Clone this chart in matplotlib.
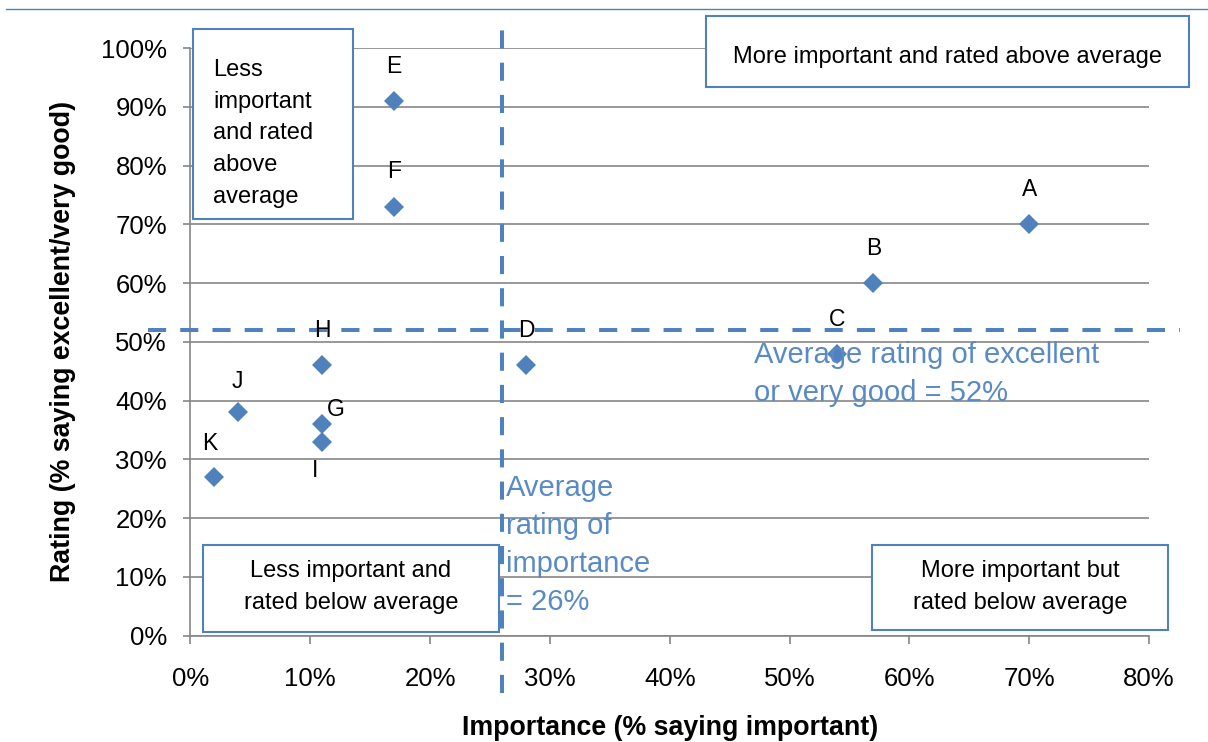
import matplotlib
matplotlib.use("Agg")
import matplotlib.pyplot as plt
from matplotlib.patches import Rectangle
from matplotlib.lines import Line2D
from matplotlib.ticker import PercentFormatter, FixedLocator
import matplotlib.transforms as mtransforms

plt.rcParams['font.family'] = ['Liberation Sans', 'DejaVu Sans']

# ---- data -------------------------------------------------------------
labels = ['A', 'B', 'C', 'D', 'E', 'F', 'G', 'H', 'I', 'J', 'K']
importance = [70, 57, 54, 28, 17, 17, 11, 11, 11, 4, 2]       # % saying important
rating = [70, 60, 48, 46, 91, 73, 36, 46, 33, 38, 27]           # % excellent/very good
avg_importance = 26
avg_rating = 52

x_ticks = [0, 10, 20, 30, 40, 50, 60, 70, 80]
y_ticks = [0, 10, 20, 30, 40, 50, 60, 70, 80, 90, 100]

# where each point's letter sits relative to the marker (pixels)
label_offsets = {
    'A': (0, 35), 'B': (0, 35), 'C': (0, 34), 'D': (0, 35), 'E': (0, 34),
    'F': (0, 35), 'G': (14, 15), 'H': (0, 35), 'I': (-7, -29), 'J': (-1, 31),
    'K': (-5, 34),
}

BLUE = '#4F81BD'
TEXT_BLUE = '#5A8AC6'
GRID = '#868686'

W, H = 1208, 742
fig = plt.figure(figsize=(W / 100, H / 100), dpi=100)


def fx(px):
    return px / W


def fy(py):
    return 1 - py / H


ax_left, ax_right, ax_top, ax_bottom = 190.5, 1149, 48, 635.7
ax = fig.add_axes([fx(ax_left), fy(ax_bottom),
                   fx(ax_right - ax_left), (ax_bottom - ax_top) / H])

ax.set_xlim(x_ticks[0], x_ticks[-1])
ax.set_ylim(y_ticks[0], y_ticks[-1])
ax.xaxis.set_major_locator(FixedLocator(x_ticks))
ax.yaxis.set_major_locator(FixedLocator(y_ticks))
ax.xaxis.set_major_formatter(PercentFormatter(100, decimals=0))
ax.yaxis.set_major_formatter(PercentFormatter(100, decimals=0))

ax.yaxis.grid(True, color=GRID, lw=1.2)
ax.set_axisbelow(True)
for side in ('top', 'right'):
    ax.spines[side].set_visible(False)
for side in ('left', 'bottom'):
    ax.spines[side].set_color(GRID)
    ax.spines[side].set_linewidth(1.2)
ax.tick_params(axis='both', colors=GRID, labelcolor='black', labelsize=18.5,
               length=5.4, width=1.2)
ax.tick_params(axis='y', pad=11.5)
ax.tick_params(axis='x', pad=17)

ax.set_xlabel('Importance (% saying important)', fontsize=19.3,
              fontweight='bold', va='center')
ax.set_ylabel('Rating (% saying excellent/very good)', fontsize=19.3,
              fontweight='bold', va='center')
ax.xaxis.set_label_coords(0.5, (ax_bottom - 728) / (ax_bottom - ax_top))
ax.yaxis.set_label_coords((63.5 - ax_left) / (ax_right - ax_left), 0.5)

# average reference lines (run past the plotting area)
hx = mtransforms.blended_transform_factory(ax.transAxes, ax.transData)
vx = mtransforms.blended_transform_factory(ax.transData, ax.transAxes)
span = ax_right - ax_left
vspan = ax_bottom - ax_top
ax.add_line(Line2D([(148 - ax_left) / span, (1180 - ax_left) / span],
                   [avg_rating, avg_rating], transform=hx, color=BLUE,
                   lw=2.9, dashes=(4.5, 3.5), clip_on=False, zorder=3))
ax.add_line(Line2D([avg_importance, avg_importance],
                   [(ax_bottom - 693) / vspan, (ax_bottom - 22) / vspan],
                   transform=vx, color=BLUE, lw=2.9, dashes=(4.5, 3.5),
                   clip_on=False, zorder=3))

# quadrant boxes (drawn in figure pixels)
def quad_box(x0, y0, x1, y1):
    fig.add_artist(Rectangle((fx(x0), fy(y1)), fx(x1 - x0), (y1 - y0) / H,
                             transform=fig.transFigure, facecolor='white',
                             edgecolor=BLUE, lw=1.5, zorder=4))


quad_box(192.5, 28.5, 352.5, 219)
for line, yy in zip(['Less', 'important', 'and rated', 'above', 'average'],
                    [70, 102, 133, 165, 197]):
    fig.text(fx(213), fy(yy), line, fontsize=17, ha='left', va='center',
             zorder=5)

quad_box(706, 16, 1189, 87)
fig.text(fx(947.5), fy(57), 'More important and rated above average',
         fontsize=17, ha='center', va='center', zorder=5)

quad_box(203, 545, 499, 632)
for line, yy in zip(['Less important and', 'rated below average'], [571, 603]):
    fig.text(fx(351), fy(yy), line, fontsize=17, ha='center', va='center',
             zorder=5)

quad_box(872, 545, 1168, 630)
for line, yy in zip(['More important but', 'rated below average'], [571, 603]):
    fig.text(fx(1020), fy(yy), line, fontsize=17, ha='center', va='center',
             zorder=5)

# average captions
for line, yy in zip(['Average rating of excellent', 'or very good = 52%'],
                    [355, 393]):
    fig.text(fx(754), fy(yy), line, fontsize=21, color=TEXT_BLUE,
             ha='left', va='center', zorder=5)
for line, yy in zip(['Average', 'rating of', 'importance', '= 26%'],
                    [488, 526, 564, 602]):
    fig.text(fx(506), fy(yy), line, fontsize=21, color=TEXT_BLUE,
             ha='left', va='center', zorder=5)

# points and their letters
ax.plot(importance, rating, linestyle='none', marker='D', markersize=9.8,
        color=BLUE, markeredgewidth=0, zorder=6, clip_on=False)
for lab, xv, yv in zip(labels, importance, rating):
    ax.annotate(lab, (xv, yv), xytext=label_offsets[lab],
                textcoords='offset pixels', ha='center', va='center',
                fontsize=16.5, zorder=7)

# thin rule across the top
fig.add_artist(Line2D([fx(6), 1], [fy(9.3), fy(9.3)], transform=fig.transFigure,
                      color=BLUE, lw=1.0))

fig.savefig('out.png', dpi=100)
